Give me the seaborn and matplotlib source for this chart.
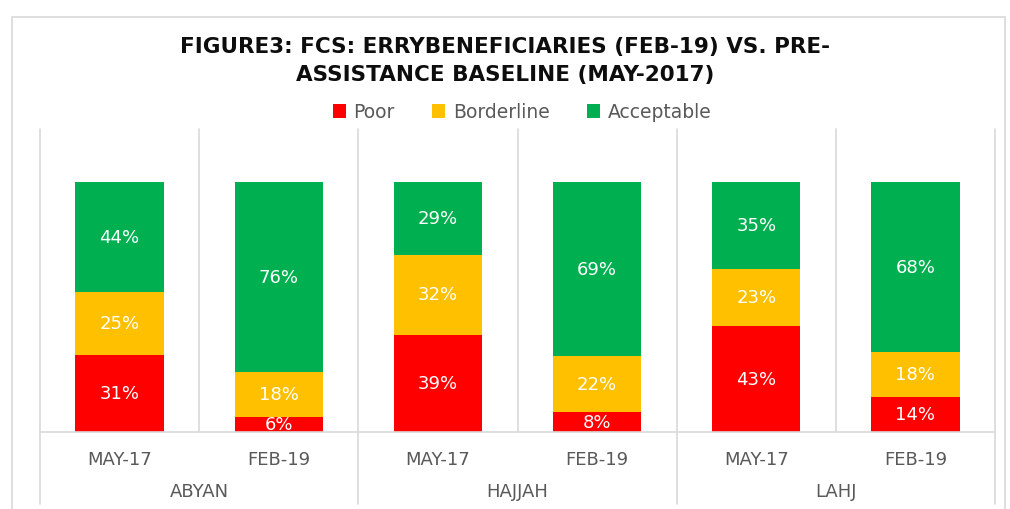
import numpy as np
import pandas as pd
import matplotlib
matplotlib.use("Agg")
import matplotlib.pyplot as plt
from matplotlib.patches import Rectangle, Patch
import seaborn as sns

# ---- data ----
regions = ["ABYAN", "HAJJAH", "LAHJ"]
periods = ["MAY-17", "FEB-19"]
poor = [31, 6, 39, 8, 43, 14]
borderline = [25, 18, 32, 22, 23, 18]
acceptable = [44, 76, 29, 69, 35, 68]
series_names = ["Poor", "Borderline", "Acceptable"]
colors = ["#FF0000", "#FFC000", "#00B050"]
title = "FIGURE3: FCS: ERRYBENEFICIARIES (FEB-19) VS. PRE-\nASSISTANCE BASELINE (MAY-2017)"

keys = [f"{r} {p}" for r in regions for p in periods]
p = np.array(poor, float)
b = np.array(borderline, float)
a = np.array(acceptable, float)
tot = p + b + a
pn, bn, an = p / tot * 100, b / tot * 100, a / tot * 100

df = pd.DataFrame({"key": keys,
                   "c_poor": pn,
                   "c_border": pn + bn,
                   "c_all": pn + bn + an})

sns.set_theme(style="white")
plt.rcParams['font.family'] = ['DejaVu Sans']

W, H = 1010, 510
fig = plt.figure(figsize=(W / 100, H / 100), dpi=100)
fig.patch.set_facecolor("white")

# outer chart frame
fig.patches.append(Rectangle((12 / W, -0.1), (1005 - 12) / W, (H - 18) / H + 0.1,
                             transform=fig.transFigure, fill=False,
                             edgecolor="#D9D9D9", linewidth=1.2))

ax_left, ax_right = 40 / W, 995 / W
ax_bottom, ax_top = (H - 433) / H, (H - 130) / H
ax = fig.add_axes([ax_left, ax_bottom, ax_right - ax_left, ax_top - ax_bottom])

bw = 0.555
sns.barplot(data=df, x="key", y="c_all", order=keys, color=colors[2],
            width=bw, saturation=1, ax=ax, linewidth=0)
sns.barplot(data=df, x="key", y="c_border", order=keys, color=colors[1],
            width=bw, saturation=1, ax=ax, linewidth=0)
sns.barplot(data=df, x="key", y="c_poor", order=keys, color=colors[0],
            width=bw, saturation=1, ax=ax, linewidth=0)

ymax = 100 * (433 - 130) / (433 - 183)
ax.set_ylim(0, ymax)
ax.set_xlim(-0.5, len(keys) - 0.5)

# value labels
for i in range(len(keys)):
    segs = [(0, pn[i], poor[i]), (pn[i], pn[i] + bn[i], borderline[i]),
            (pn[i] + bn[i], 100, acceptable[i])]
    for lo, hi, v in segs:
        ax.text(i, (lo + hi) / 2, f"{v}%", ha="center", va="center",
                color="white", fontsize=13, clip_on=False)

# axes styling
for s in ["top", "right", "left"]:
    ax.spines[s].set_visible(False)
ax.spines["bottom"].set_color("#D9D9D9")
ax.spines["bottom"].set_linewidth(1.2)
ax.set_yticks([])
ax.set_ylabel("")
ax.set_xlabel("")
ax.set_xticks(range(len(keys)))
ax.set_xticklabels([k.split(" ")[1] for k in keys], fontsize=13,
                   color="#595959")
ax.tick_params(axis="x", length=0, pad=13)

# separators
axis_h_px = 433 - 130
for x in [0.5, 2.5, 4.5]:
    ax.plot([x, x], [0, 1], transform=ax.get_xaxis_transform(),
            color="#D9D9D9", lw=1.2, clip_on=False)
for x in [-0.5, 1.5, 3.5, 5.5]:
    ax.plot([x, x], [-(505 - 433) / axis_h_px, 1], transform=ax.get_xaxis_transform(),
            color="#D9D9D9", lw=1.2, clip_on=False)

# group labels
for gi, r in enumerate(regions):
    ax.text(gi * 2 + 0.5, -(492 - 433) / axis_h_px, r,
            transform=ax.get_xaxis_transform(), ha="center", va="center",
            fontsize=13, color="#595959")

# title
fig.text(0.5, (H - 61) / H, title, ha="center", va="center", fontsize=15.5,
         fontweight="bold", color="#0D0D0D", linespacing=1.55)

# legend
handles = [Patch(facecolor=c, edgecolor="none") for c in colors]
fig.legend(handles, series_names, loc="center", bbox_to_anchor=(522 / W, (H - 113) / H),
           ncol=3, frameon=False, fontsize=13.5, handlelength=0.7, handleheight=0.7,
           columnspacing=2.0, handletextpad=0.4, labelcolor="#595959")

fig.savefig("out.png", dpi=100, facecolor="white")
